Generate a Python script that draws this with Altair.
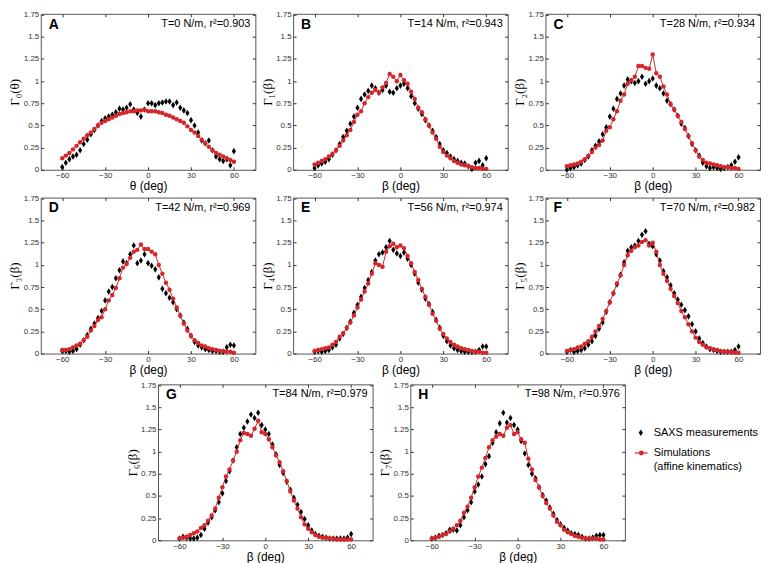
import altair as alt
import pandas as pd

BETA = [-60, -57.5, -55, -52.5, -50, -47.5, -45, -42.5, -40, -37.5, -35, -32.5, -30, -27.5, -25,
        -22.5, -20, -17.5, -15, -12.5, -10, -7.5, -5, -2.5, 0, 2.5, 5, 7.5, 10, 12.5, 15, 17.5,
        20, 22.5, 25, 27.5, 30, 32.5, 35, 37.5, 40, 42.5, 45, 47.5, 50, 52.5, 55, 57.5, 60]

A_SAXS = [0.03, 0.08, 0.12, 0.15, 0.17, 0.22, 0.29, 0.34, 0.40, 0.45, 0.50, 0.55, 0.58, 0.60, 0.62,
          0.65, 0.69, 0.68, 0.70, 0.74, 0.68, 0.64, 0.60, 0.68, 0.75, 0.75, 0.73, 0.75, 0.76, 0.77,
          0.77, 0.73, 0.76, 0.70, 0.67, 0.64, 0.56, 0.50, 0.42, 0.33, 0.30, 0.33, 0.22, 0.15, 0.12,
          0.10, 0.12, 0.05, 0.21]
A_SIM = [0.13, 0.16, 0.19, 0.23, 0.27, 0.31, 0.35, 0.39, 0.42, 0.46, 0.50, 0.53, 0.55, 0.57, 0.59,
         0.61, 0.63, 0.64, 0.65, 0.66, 0.66, 0.67, 0.67, 0.68, 0.66, 0.66, 0.66, 0.65, 0.64, 0.62,
         0.61, 0.59, 0.57, 0.55, 0.53, 0.49, 0.45, 0.42, 0.38, 0.34, 0.30, 0.26, 0.22, 0.19, 0.17,
         0.15, 0.13, 0.11, 0.09]

B_SAXS = [0.02, 0.05, 0.07, 0.09, 0.12, 0.17, 0.22, 0.29, 0.37, 0.44, 0.52, 0.60, 0.70, 0.80, 0.85,
          0.89, 0.95, 0.92, 0.87, 0.90, 0.95, 0.88, 0.87, 0.92, 0.95, 0.97, 0.92, 0.83, 0.75, 0.69,
          0.63, 0.56, 0.50, 0.44, 0.37, 0.29, 0.22, 0.19, 0.15, 0.12, 0.10, 0.08, 0.07, 0.04, 0.01,
          0.08, 0.10, 0.05, 0.13]
B_SIM = [0.06, 0.08, 0.10, 0.12, 0.15, 0.18, 0.22, 0.27, 0.33, 0.39, 0.45, 0.54, 0.62, 0.66, 0.75,
         0.82, 0.87, 0.90, 0.87, 0.93, 0.98, 1.08, 1.05, 1.00, 1.07, 1.01, 0.97, 0.88, 0.80, 0.70,
         0.65, 0.57, 0.50, 0.42, 0.35, 0.26, 0.20, 0.16, 0.13, 0.10, 0.08, 0.06, 0.05, 0.04, 0.03,
         0.02, 0.02, 0.01, 0.01]

C_SAXS = [0.00, 0.02, 0.03, 0.05, 0.07, 0.11, 0.15, 0.22, 0.27, 0.32, 0.40, 0.48, 0.60, 0.69, 0.80,
          0.86, 0.95, 1.02, 1.00, 0.98, 1.00, 1.05, 0.97, 1.00, 1.03, 0.95, 0.92, 0.86, 0.78, 0.74,
          0.68, 0.61, 0.52, 0.47, 0.38, 0.29, 0.22, 0.16, 0.08, 0.04, 0.02, 0.03, 0.02, 0.01, 0.02,
          0.03, 0.05, 0.09, 0.14]
C_SIM = [0.04, 0.05, 0.06, 0.07, 0.09, 0.12, 0.16, 0.20, 0.25, 0.28, 0.33, 0.44, 0.48, 0.57, 0.66,
         0.78, 0.85, 0.97, 1.01, 1.05, 1.17, 1.17, 1.15, 1.14, 1.30, 1.09, 1.05, 0.94, 0.85, 0.74,
         0.68, 0.61, 0.54, 0.46, 0.38, 0.30, 0.22, 0.15, 0.11, 0.08, 0.07, 0.06, 0.05, 0.04, 0.03,
         0.03, 0.02, 0.02, 0.01]

D_SAXS = [0.03, 0.03, 0.02, 0.03, 0.05, 0.10, 0.15, 0.21, 0.28, 0.34, 0.40, 0.48, 0.60, 0.70, 0.75,
          0.85, 0.94, 1.04, 1.02, 1.12, 1.22, 1.02, 1.05, 1.12, 1.02, 0.99, 0.95, 0.86, 0.73, 0.68,
          0.63, 0.58, 0.50, 0.43, 0.35, 0.28, 0.20, 0.13, 0.09, 0.07, 0.05, 0.04, 0.03, 0.03, 0.02,
          0.02, 0.07, 0.10, 0.09]
D_SIM = [0.04, 0.04, 0.05, 0.07, 0.09, 0.11, 0.15, 0.19, 0.26, 0.31, 0.38, 0.41, 0.50, 0.60, 0.66,
         0.74, 0.85, 0.97, 1.01, 1.08, 1.15, 1.17, 1.23, 1.18, 1.18, 1.15, 1.12, 1.00, 0.90, 0.80,
         0.72, 0.62, 0.52, 0.43, 0.34, 0.26, 0.20, 0.15, 0.12, 0.09, 0.08, 0.06, 0.05, 0.04, 0.03,
         0.03, 0.02, 0.02, 0.01]

E_SAXS = [0.02, 0.03, 0.02, 0.03, 0.04, 0.07, 0.10, 0.17, 0.22, 0.29, 0.36, 0.46, 0.55, 0.64, 0.74,
          0.83, 0.92, 1.05, 1.12, 1.14, 1.20, 1.27, 1.17, 1.13, 1.10, 1.14, 1.07, 1.00, 0.90, 0.80,
          0.72, 0.62, 0.56, 0.47, 0.38, 0.29, 0.20, 0.14, 0.09, 0.06, 0.04, 0.03, 0.02, 0.02, 0.02,
          0.02, 0.04, 0.08, 0.08]
E_SIM = [0.03, 0.04, 0.05, 0.06, 0.07, 0.10, 0.13, 0.19, 0.23, 0.29, 0.35, 0.43, 0.52, 0.61, 0.70,
         0.79, 0.90, 1.02, 1.00, 0.98, 1.15, 1.21, 1.24, 1.20, 1.22, 1.19, 1.10, 1.02, 0.92, 0.83,
         0.73, 0.64, 0.55, 0.45, 0.37, 0.28, 0.22, 0.17, 0.13, 0.10, 0.08, 0.06, 0.05, 0.04, 0.03,
         0.02, 0.02, 0.01, 0.01]

F_SAXS = [0.02, 0.04, 0.02, 0.03, 0.04, 0.06, 0.10, 0.14, 0.20, 0.28, 0.35, 0.47, 0.58, 0.68, 0.78,
          0.89, 1.03, 1.16, 1.20, 1.22, 1.27, 1.34, 1.38, 1.24, 1.21, 1.12, 1.05, 0.93, 0.86, 0.77,
          0.68, 0.61, 0.55, 0.49, 0.42, 0.33, 0.25, 0.17, 0.12, 0.08, 0.05, 0.04, 0.03, 0.02, 0.02,
          0.02, 0.02, 0.04, 0.08]
F_SIM = [0.03, 0.04, 0.05, 0.07, 0.08, 0.11, 0.14, 0.19, 0.25, 0.31, 0.39, 0.48, 0.58, 0.68, 0.79,
         0.88, 1.00, 1.11, 1.16, 1.20, 1.22, 1.26, 1.28, 1.22, 1.25, 1.15, 1.00, 0.90, 0.82, 0.73,
         0.65, 0.57, 0.48, 0.41, 0.33, 0.25, 0.18, 0.13, 0.10, 0.07, 0.06, 0.05, 0.04, 0.03, 0.02,
         0.02, 0.02, 0.01, 0.01]

G_SAXS = [0.02, 0.04, 0.03, 0.02, 0.02, 0.03, 0.06, 0.13, 0.20, 0.26, 0.34, 0.43, 0.53, 0.67, 0.78,
          0.90, 1.05, 1.20, 1.27, 1.34, 1.42, 1.38, 1.44, 1.30, 1.25, 1.20, 1.08, 0.97, 0.85, 0.76,
          0.66, 0.57, 0.48, 0.40, 0.32, 0.24, 0.17, 0.11, 0.07, 0.05, 0.04, 0.03, 0.02, 0.02, 0.02,
          0.02, 0.02, 0.03, 0.07]
G_SIM = [0.02, 0.03, 0.04, 0.06, 0.08, 0.10, 0.14, 0.17, 0.22, 0.28, 0.36, 0.48, 0.60, 0.72, 0.80,
         0.90, 1.00, 1.13, 1.21, 1.20, 1.18, 1.26, 1.35, 1.22, 1.20, 1.14, 1.05, 0.96, 0.88, 0.78,
         0.67, 0.55, 0.45, 0.36, 0.26, 0.18, 0.13, 0.09, 0.06, 0.04, 0.03, 0.03, 0.02, 0.02, 0.01,
         0.01, 0.01, 0.01, 0.01]

H_SAXS = [0.02, 0.03, 0.05, 0.06, 0.08, 0.12, 0.12, 0.11, 0.17, 0.26, 0.34, 0.43, 0.55, 0.63, 0.72,
          0.86, 0.95, 1.10, 1.22, 1.32, 1.44, 1.33, 1.38, 1.30, 1.25, 1.12, 0.98, 0.85, 0.75, 0.70,
          0.60, 0.51, 0.45, 0.37, 0.30, 0.23, 0.18, 0.14, 0.11, 0.08, 0.07, 0.06, 0.04, 0.02, 0.02,
          0.03, 0.05, 0.06, 0.06]
H_SIM = [0.02, 0.03, 0.04, 0.06, 0.07, 0.10, 0.13, 0.17, 0.22, 0.31, 0.38, 0.48, 0.60, 0.72, 0.82,
         0.93, 1.05, 1.13, 1.17, 1.20, 1.18, 1.27, 1.30, 1.20, 1.22, 1.14, 1.10, 0.92, 0.80, 0.68,
         0.60, 0.50, 0.42, 0.36, 0.28, 0.21, 0.17, 0.12, 0.09, 0.07, 0.05, 0.04, 0.03, 0.02, 0.02,
         0.02, 0.02, 0.01, 0.01]

LETTERS = ["A", "B", "C", "D", "E", "F", "G", "H"]
NOTES = ["T=0 N/m, r\u00b2=0.903", "T=14 N/m, r\u00b2=0.943", "T=28 N/m, r\u00b2=0.934",
         "T=42 N/m, r\u00b2=0.969", "T=56 N/m, r\u00b2=0.974", "T=70 N/m, r\u00b2=0.982",
         "T=84 N/m, r\u00b2=0.979", "T=98 N/m, r\u00b2=0.976"]
YTITLES = ["\u0393\u2080(\u03b8)", "\u0393\u2081(\u03b2)", "\u0393\u2082(\u03b2)", "\u0393\u2083(\u03b2)",
           "\u0393\u2084(\u03b2)", "\u0393\u2085(\u03b2)", "\u0393\u2086(\u03b2)", "\u0393\u2087(\u03b2)"]
XTITLES = ["\u03b8 (deg)"] + ["\u03b2 (deg)"] * 7
X_TICKS = [-60, -30, 0, 30, 60]
Y_TICKS = [0, 0.25, 0.5, 0.75, 1, 1.25, 1.5, 1.75]
LEGEND_LABELS = ["SAXS measurements", "Simulations", "(affine kinematics)"]

SAXS = [A_SAXS, B_SAXS, C_SAXS, D_SAXS, E_SAXS, F_SAXS, G_SAXS, H_SAXS]
SIM = [A_SIM, B_SIM, C_SIM, D_SIM, E_SIM, F_SIM, G_SIM, H_SIM]

W = 216
H = 157
YEXT = 18
S_H = 4
RED = "#d4262b"
FRAME = "#555555"
SANS = "Liberation Sans, Arial, sans-serif"
DIAMOND = "M0,-1L0.62,0L0,1L-0.62,0Z"


def panel(i):
    dfb = pd.DataFrame({"beta": BETA, "val": SAXS[i]})
    dfr = pd.DataFrame({"beta": BETA, "val": SIM[i]})
    x = alt.X("beta:Q", scale=alt.Scale(domain=[-75, 75], nice=False),
              axis=alt.Axis(values=X_TICKS, title=XTITLES[i]))
    y = alt.Y("val:Q", scale=alt.Scale(domain=[0, 1.76], nice=False, zero=False),
              axis=alt.Axis(values=Y_TICKS, format=".2~f", title=YTITLES[i]))
    black = alt.Chart(dfb).mark_point(shape=DIAMOND, filled=True, size=44, color="black",
                                      opacity=1, strokeWidth=0).encode(x=x, y=y)
    line = alt.Chart(dfr).mark_line(color=RED, strokeWidth=1).encode(x=x, y=y)
    pts = alt.Chart(dfr).mark_point(shape="circle", filled=True, size=20, color=RED,
                                    opacity=1, strokeWidth=0).encode(x=x, y=y)
    lab = alt.Chart(pd.DataFrame({"t": [LETTERS[i]]})).mark_text(
        align="left", baseline="alphabetic", fontSize=14, fontWeight="bold", font=SANS,
        color="black").encode(x=alt.value(8), y=alt.value(15), text="t:N")
    note = alt.Chart(pd.DataFrame({"t": [NOTES[i]]})).mark_text(
        align="right", baseline="alphabetic", fontSize=11, font=SANS,
        color="black").encode(x=alt.value(W - 5), y=alt.value(13), text="t:N")
    return alt.layer(black, line, pts, lab, note).properties(
        width=W, height=H, view=alt.ViewBackground(stroke=FRAME, strokeWidth=1))


spacer = alt.Chart(pd.DataFrame({"t": [""]})).mark_text().encode(
    x=alt.value(0), y=alt.value(0), text="t:N").properties(
    width=80, height=H, view=alt.ViewBackground(stroke="transparent"))

ly1 = 0.31 * H
ly2 = 0.44 * H
leg_diamond = alt.Chart(pd.DataFrame({"t": ["a"]})).mark_point(
    shape=DIAMOND, filled=True, size=44, color="black", opacity=1, strokeWidth=0).encode(
    x=alt.value(10), y=alt.value(ly1))
leg_line = alt.Chart(pd.DataFrame({"t": ["a"]})).mark_rule(color=RED, strokeWidth=1.2).encode(
    x=alt.value(4), x2=alt.value(17), y=alt.value(ly2))
leg_dot = alt.Chart(pd.DataFrame({"t": ["a"]})).mark_point(
    shape="circle", filled=True, size=24, color=RED, opacity=1, strokeWidth=0).encode(
    x=alt.value(10.5), y=alt.value(ly2))
leg_t1 = alt.Chart(pd.DataFrame({"t": [LEGEND_LABELS[0]]})).mark_text(
    align="left", baseline="middle", fontSize=11, font=SANS, color="black").encode(
    x=alt.value(23), y=alt.value(ly1), text="t:N")
leg_t2 = alt.Chart(pd.DataFrame({"t": [LEGEND_LABELS[1]]})).mark_text(
    align="left", baseline="middle", fontSize=11, font=SANS, color="black").encode(
    x=alt.value(23), y=alt.value(ly2), text="t:N")
leg_t3 = alt.Chart(pd.DataFrame({"t": [LEGEND_LABELS[2]]})).mark_text(
    align="left", baseline="middle", fontSize=11, font=SANS, color="black").encode(
    x=alt.value(23), y=alt.value(ly2 + 14), text="t:N")
legend = alt.layer(leg_diamond, leg_line, leg_dot, leg_t1, leg_t2, leg_t3).properties(
    width=124, height=H, view=alt.ViewBackground(stroke="transparent"))

row1 = alt.hconcat(panel(0), panel(1), panel(2), spacing=S_H)
row2 = alt.hconcat(panel(3), panel(4), panel(5), spacing=S_H)
row3 = alt.hconcat(spacer, panel(6), panel(7), legend, spacing=S_H)

chart = alt.vconcat(row1, row2, row3, spacing=1).properties(
    padding={"left": 0, "top": 0, "right": 0, "bottom": 0}
).configure(background="white").configure_axis(
    labelFontSize=8, labelFont=SANS, labelColor="#333333",
    ticks=False, domain=False, grid=True, gridColor="#333333", gridWidth=1,
    titleFontWeight="normal", titleColor="black"
).configure_axisX(
    titleFont=SANS, titleFontSize=12, titlePadding=1, labelPadding=2,
    minExtent=10, maxExtent=10, gridDash=[3, H - 6, 3, 1000]
).configure_axisY(
    titleFont="Liberation Serif, Times New Roman, serif", titleFontSize=13, titlePadding=1,
    labelPadding=2, minExtent=YEXT, maxExtent=YEXT, gridDash=[3, W - 6, 3, 1000]
)

chart.save("out.html", embed_options={"renderer": "svg", "actions": False})
